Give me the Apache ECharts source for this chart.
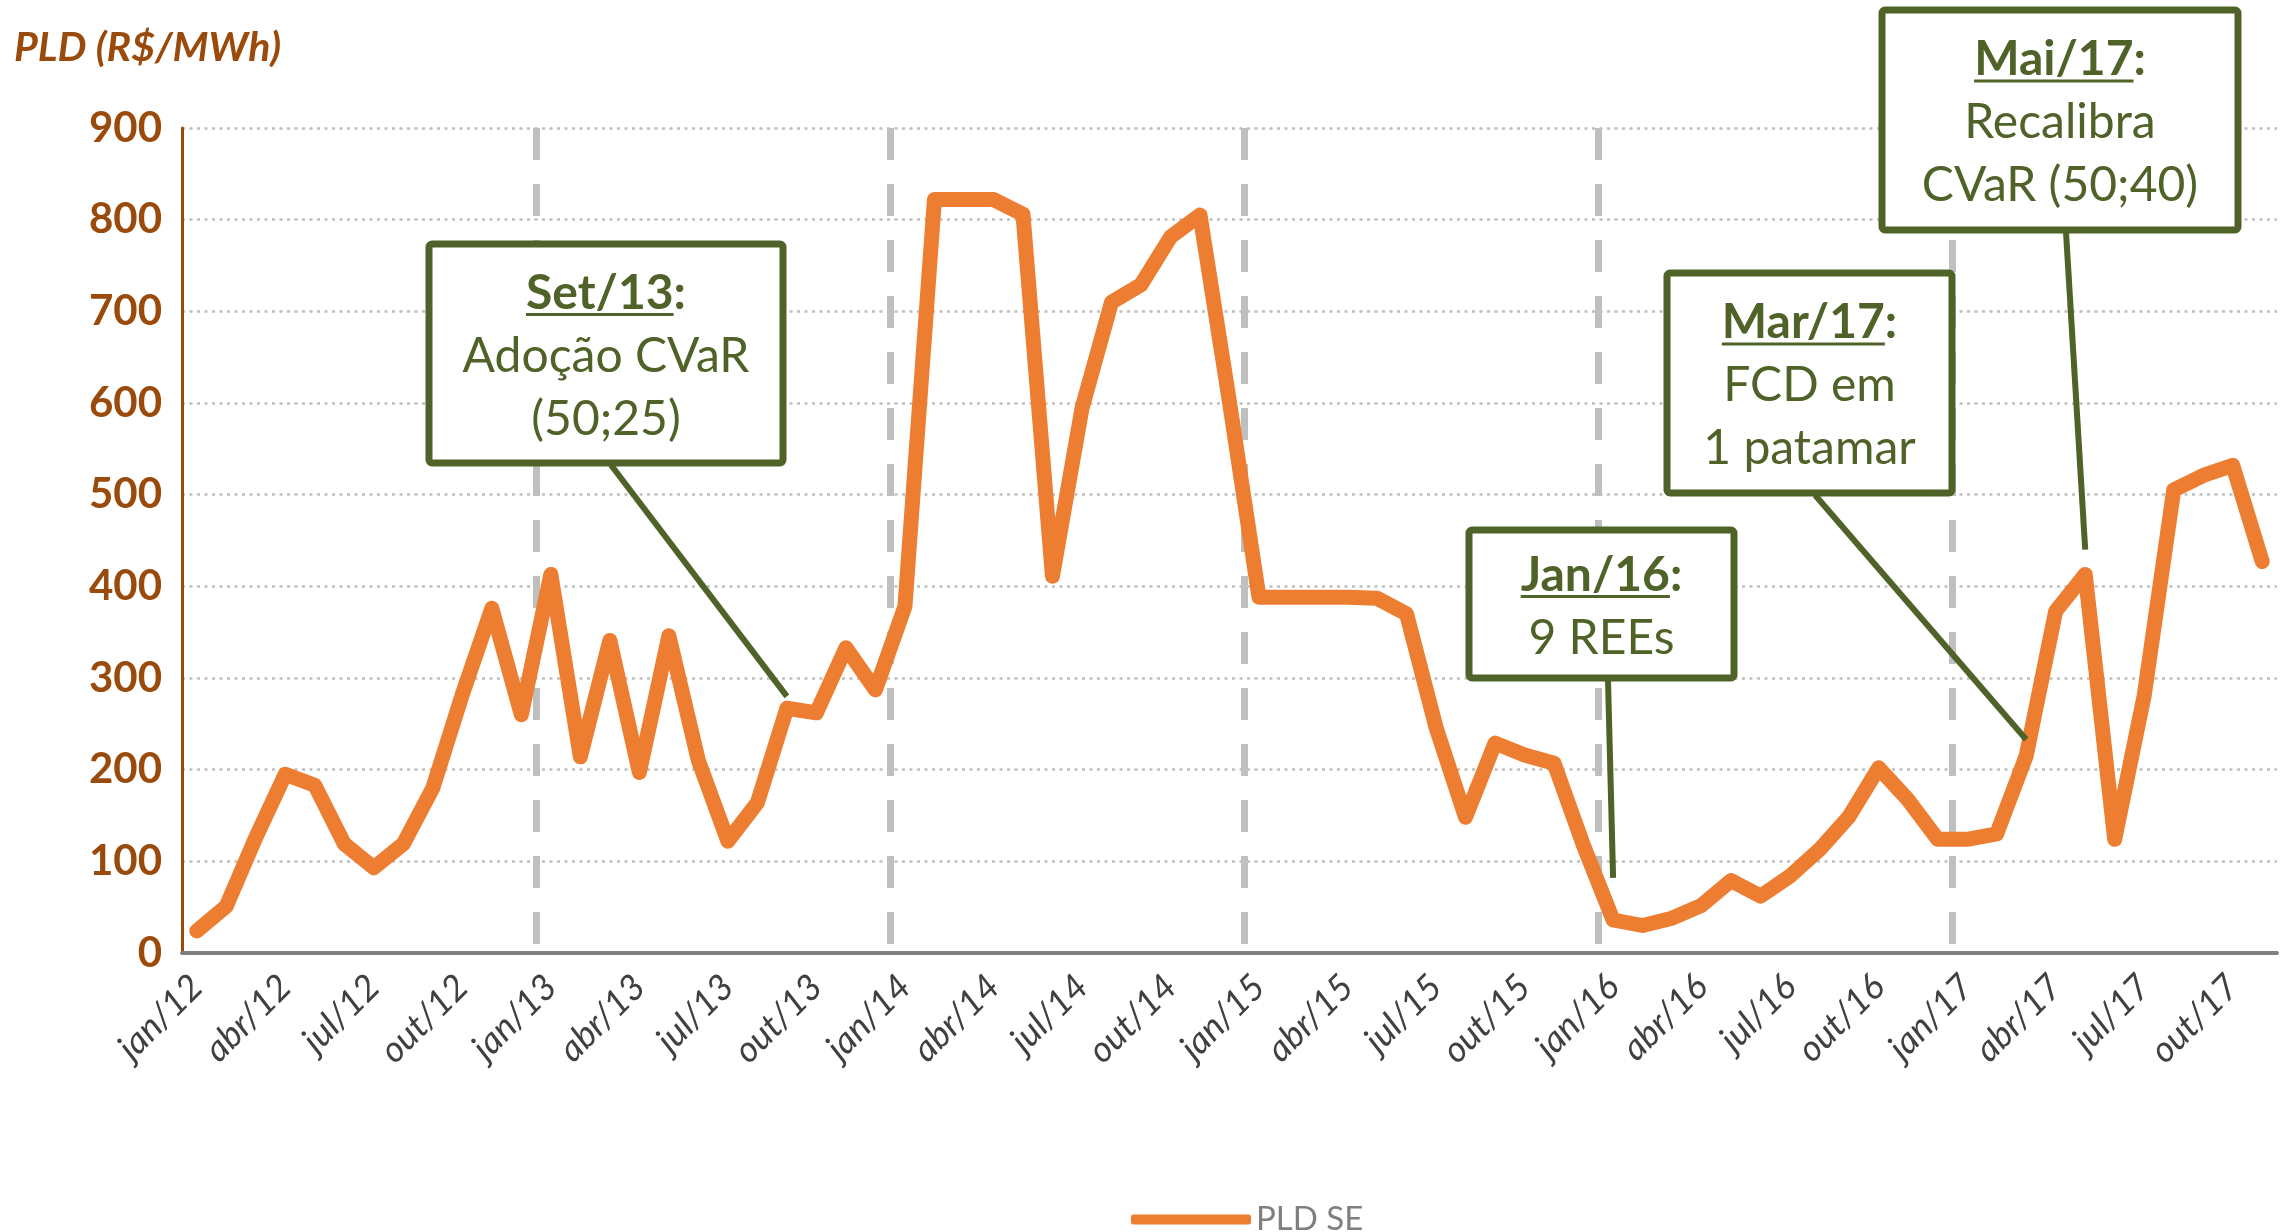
<!DOCTYPE html>
<html>
<head>
<meta charset="utf-8">
<style>
  html, body { margin: 0; padding: 0; background: #fff; }
  #chart { width: 2281px; height: 1232px; }
</style>
<script src="https://cdn.jsdelivr.net/npm/echarts@6/dist/echarts.min.js"></script>
</head>
<body>
<div id="chart"></div>
<script>
// eixo x: jan/12 ... nov/17
var months = ['jan', 'fev', 'mar', 'abr', 'mai', 'jun', 'jul', 'ago', 'set', 'out', 'nov', 'dez'];
var years = ['12', '13', '14', '15', '16', '17'];
var categories = [];
years.forEach(function (y) {
    months.forEach(function (m) { categories.push(m + '/' + y); });
});
categories = categories.slice(0, 71);

// PLD SE (R$/MWh), media mensal
var pld2012 = [24, 51, 126, 195, 183, 119, 93, 119, 180, 282, 376, 260];
var pld2013 = [413, 214, 341, 197, 346, 210, 122, 164, 267, 262, 333, 287];
var pld2014 = [378, 822, 822, 822, 806, 411, 594, 710, 729, 781, 805, 601];
var pld2015 = [388, 388, 388, 388, 387, 370, 246, 148, 229, 216, 207, 117];
var pld2016 = [36, 30, 38, 52, 79, 62, 84, 113, 149, 202, 167, 124];
var pld2017 = [124, 130, 215, 373, 413, 124, 281, 505, 521, 532, 427];
var pld = [].concat(pld2012, pld2013, pld2014, pld2015, pld2016, pld2017);

var yTicks = { min: 0, max: 900, interval: 100 };

// caixas de anotacao
var noteTitles = ['Set/13', 'Jan/16', 'Mar/17', 'Mai/17'];
var noteLines = [['Adoção CVaR', '(50;25)'], ['9 REEs'], ['FCD em', '1 patamar'], ['Recalibra', 'CVaR (50;40)']];
var noteTargets = [['set/13', 280], ['jan/16', 82], ['mar/17', 233], ['mai/17', 440]];

var boxes = [
    { x: 429, y: 244, w: 354, h: 219, px: 611 },
    { x: 1469, y: 530, w: 265, h: 148, px: 1608 },
    { x: 1667, y: 273, w: 285, h: 220, px: 1815 },
    { x: 1882, y: 10, w: 356, h: 220, px: 2066 }
];

var green = '#4F6228';
var brown = '#9A4A0B';
var noteFont = 48;

var ctx = document.createElement('canvas').getContext('2d');
function textWidth(s, font) {
    ctx.font = font;
    return ctx.measureText(s).width;
}

function makeNote(k) {
    var b = boxes[k];
    var lines = [noteTitles[k] + ':'].concat(noteLines[k]);
    var n = lines.length;
    var children = [{
        type: 'rect', z: 100,
        shape: { x: 0, y: 0, width: b.w, height: b.h, r: 3 },
        style: { fill: '#fff', stroke: green, lineWidth: 7 }
    }];
    lines.forEach(function (txt, i) {
        var base = b.h / 2 + 18 + (i - (n - 1) / 2) * 63;
        var font = (i === 0 ? 'bold ' : '') + noteFont + 'px Lato';
        children.push({
            type: 'text', z: 101,
            x: b.w / 2,
            y: base - 0.3225 * noteFont,
            style: { text: txt, fill: green, font: font, align: 'center', verticalAlign: 'middle' }
        });
        if (i === 0) {
            var total = textWidth(txt, font);
            var wu = textWidth(noteTitles[k], font);
            var x0 = b.w / 2 - total / 2;
            children.push({
                type: 'line', z: 101,
                shape: { x1: x0, y1: base + 6, x2: x0 + wu, y2: base + 6 },
                style: { stroke: green, lineWidth: 3 }
            });
        }
    });
    return { type: 'group', x: b.x, y: b.y, z: 100, children: children };
}

var graphics = boxes.map(function (b, k) { return makeNote(k); });
graphics.push({
    type: 'text', x: 14, y: 48, z: 100,
    style: { text: 'PLD (R$/MWh)', fill: brown, font: 'italic bold 41px Lato', verticalAlign: 'middle' }
});

var option = {
    animation: false,
    backgroundColor: '#fff',
    textStyle: { fontFamily: 'Lato' },
    grid: { left: 182, right: 4, top: 128, bottom: 279, containLabel: false, outerBoundsMode: 'none' },
    legend: {
        data: ['PLD SE'],
        left: 1126,
        top: 1198,
        icon: 'roundRect',
        itemWidth: 120,
        itemHeight: 10,
        textStyle: { color: '#7f7f7f', fontSize: 33, fontFamily: 'Lato' }
    },
    xAxis: {
        type: 'category',
        data: categories,
        boundaryGap: true,
        axisLine: { lineStyle: { color: '#808080', width: 4 } },
        axisTick: { interval: 2, length: 12, lineStyle: { color: '#808080', width: 3 } },
        axisLabel: {
            interval: 2, rotate: 45, margin: 28,
            color: '#404040', fontSize: 36, fontStyle: 'italic', fontFamily: 'Lato'
        },
        splitLine: {
            show: true,
            showMaxLine: false,
            interval: function (i) { return i > 0 && i % 12 === 0; },
            lineStyle: { color: '#bfbfbf', width: 7, type: [32, 24] }
        }
    },
    yAxis: {
        type: 'value',
        min: yTicks.min, max: yTicks.max, interval: yTicks.interval,
        axisLine: { show: true, lineStyle: { color: brown, width: 3 } },
        axisTick: { show: false },
        axisLabel: { margin: 20, color: brown, fontSize: 42, fontWeight: 'bold', fontFamily: 'Lato' },
        splitLine: { lineStyle: { color: '#bfbfbf', width: 2.5, type: [3, 4.5] } }
    },
    series: [{
        name: 'PLD SE',
        type: 'line',
        data: pld,
        showSymbol: false,
        symbol: 'none',
        itemStyle: { color: '#ED7D31' },
        lineStyle: { color: '#ED7D31', width: 15, cap: 'round', join: 'round' },
        markLine: {
            silent: true,
            symbol: ['none', 'none'],
            label: { show: false },
            lineStyle: { color: green, width: 6, type: 'solid' },
            data: noteTargets.map(function (t, k) {
                return [{ x: boxes[k].px, y: boxes[k].y + boxes[k].h + 2 }, { coord: t }];
            })
        }
    }],
    graphic: graphics
};

var myChart = echarts.init(document.getElementById('chart'));
myChart.setOption(option);
</script>
</body>
</html>
